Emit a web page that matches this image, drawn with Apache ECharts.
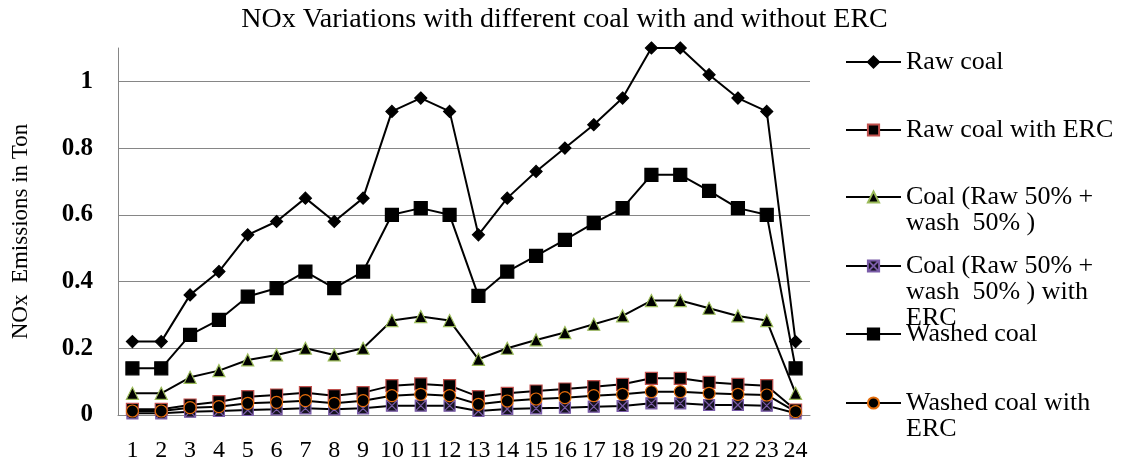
<!DOCTYPE html>
<html>
<head>
<meta charset="utf-8">
<script src="https://cdn.jsdelivr.net/npm/echarts@6/dist/echarts.min.js"></script>
<style>
  html, body { margin: 0; padding: 0; background: #ffffff; }
  #chart { width: 1129px; height: 466px; }
</style>
</head>
<body>
<div id="chart"></div>
<script>
// Hour of day (x categories)
const hours = ['1','2','3','4','5','6','7','8','9','10','11','12',
               '13','14','15','16','17','18','19','20','21','22','23','24'];

// NOx emissions (ton) for each fuel case
const rawCoal = [0.22,0.22,0.36,0.43,0.54,0.58,0.65,0.58,0.65,0.91,0.95,0.91,
                 0.54,0.65,0.73,0.80,0.87,0.95,1.10,1.10,1.02,0.95,0.91,0.22];
const rawCoalERC = [0.017,0.017,0.030,0.040,0.055,0.060,0.067,0.058,0.067,0.088,0.093,0.088,
                    0.055,0.065,0.072,0.078,0.085,0.092,0.110,0.110,0.098,0.092,0.088,0.015];
const blendCoal = [0.065,0.065,0.113,0.133,0.165,0.180,0.200,0.180,0.200,0.283,0.295,0.283,
                   0.167,0.200,0.225,0.247,0.272,0.297,0.343,0.343,0.320,0.297,0.283,0.065];
const blendCoalERC = [0.005,0.005,0.010,0.012,0.015,0.017,0.020,0.017,0.020,0.028,0.028,0.028,
                      0.012,0.018,0.020,0.022,0.025,0.027,0.035,0.035,0.030,0.030,0.028,0.005];
const washedCoal = [0.14,0.14,0.24,0.285,0.355,0.38,0.43,0.38,0.43,0.60,0.62,0.60,
                    0.357,0.43,0.477,0.525,0.575,0.62,0.72,0.72,0.672,0.62,0.60,0.14];
const washedCoalERC = [0.012,0.012,0.022,0.025,0.035,0.038,0.043,0.035,0.043,0.058,0.062,0.058,
                       0.032,0.042,0.048,0.052,0.058,0.062,0.070,0.070,0.065,0.062,0.060,0.010];

// Series names and the wrapped legend captions
const seriesNames = [
  'Raw coal',
  'Raw coal with ERC',
  'Coal (Raw 50% + wash  50% )',
  'Coal (Raw 50% + wash  50% ) with ERC',
  'Washed coal',
  'Washed coal with ERC'
];
const legendCaptions = [
  ['Raw coal'],
  ['Raw coal with ERC'],
  ['Coal (Raw 50% +', 'wash  50% )'],
  ['Coal (Raw 50% +', 'wash  50% ) with', 'ERC'],
  ['Washed coal'],
  ['Washed coal with', 'ERC']
];
const seriesValues = [rawCoal, rawCoalERC, blendCoal, blendCoalERC, washedCoal, washedCoalERC];

const SERIF = '"Liberation Serif", "Times New Roman", serif';
const LINE_H = 26;

const symbols = [
  { symbol: 'diamond', size: 12, fill: '#000000', border: '#000000' },
  { symbol: 'rect', size: 12, fill: '#000000', border: '#c0504d' },
  { symbol: 'triangle', size: 12, fill: '#000000', border: '#9bbb59' },
  { symbol: 'path://M0,0H10V10H0Z M0,0L10,10 M10,0L0,10', size: 11, fill: '#15121f', border: '#7a5ca8' },
  { symbol: 'rect', size: 13, fill: '#000000', border: '#000000' },
  { symbol: 'circle', size: 12, fill: '#000000', border: '#e46c0a' }
];

const series = seriesNames.map((name, i) => ({
  name: name,
  type: 'line',
  data: seriesValues[i],
  symbol: symbols[i].symbol,
  symbolSize: symbols[i].size,
  showAllSymbol: true,
  animation: false,
  lineStyle: { color: '#000000', width: 2 },
  itemStyle: { color: symbols[i].fill, borderColor: symbols[i].border, borderWidth: 1.2 },
  emphasis: { disabled: true }
}));

// One legend block per series so each marker sits at its own row.
// Legend text is centred on the marker, so wrapped captions get blank
// lines in front of them: the first caption line then lands on the marker
// and the remaining lines hang below it.
const markerRows = [62, 130, 197, 266, 334, 403];
const legends = seriesNames.map((name, i) => {
  const lines = legendCaptions[i];
  const n = lines.length;
  const padded = new Array(n - 1).fill('').concat(lines);
  const half = (2 * n - 1) * LINE_H / 2;
  return {
    data: [name],
    orient: 'vertical',
    left: 845,
    top: markerRows[i] - half,
    padding: 0,
    itemWidth: 55,
    itemHeight: 14,
    itemGap: 0,
    selectedMode: false,
    formatter: () => padded.join('\n'),
    textStyle: {
      fontFamily: SERIF,
      fontSize: 26,
      color: '#000000',
      lineHeight: LINE_H
    }
  };
});

const chart = echarts.init(document.getElementById('chart'), null, { renderer: 'canvas' });
chart.setOption({
  animation: false,
  backgroundColor: '#ffffff',
  title: {
    text: 'NOx Variations with different coal with and without ERC',
    left: 'center',
    top: 1,
    textStyle: { fontFamily: SERIF, fontSize: 28, fontWeight: 'normal', color: '#000000' }
  },
  legend: legends,
  grid: { left: 118, right: 319, top: 48, bottom: 51, containLabel: false },
  xAxis: {
    type: 'category',
    data: hours,
    boundaryGap: true,
    axisLine: { show: true, lineStyle: { color: '#868686', width: 1 } },
    axisTick: { show: false },
    axisLabel: {
      interval: 0,
      margin: 24,
      fontFamily: SERIF,
      fontSize: 24,
      color: '#000000'
    },
    splitLine: { show: false }
  },
  yAxis: {
    type: 'value',
    min: 0,
    max: 1.1,
    interval: 0.2,
    name: 'NOx  Emissions in Ton',
    nameLocation: 'middle',
    nameRotate: 90,
    nameGap: 86,
    nameTextStyle: { fontFamily: SERIF, fontSize: 23, color: '#000000' },
    axisLine: { show: true, lineStyle: { color: '#868686', width: 1 } },
    axisTick: { show: false },
    axisLabel: {
      margin: 25,
      showMaxLabel: false,
      fontFamily: SERIF,
      fontSize: 25,
      fontWeight: 'bold',
      color: '#000000'
    },
    splitLine: { show: true, showMaxLine: false, lineStyle: { color: '#868686', width: 1 } }
  },
  series: series
});
</script>
</body>
</html>
